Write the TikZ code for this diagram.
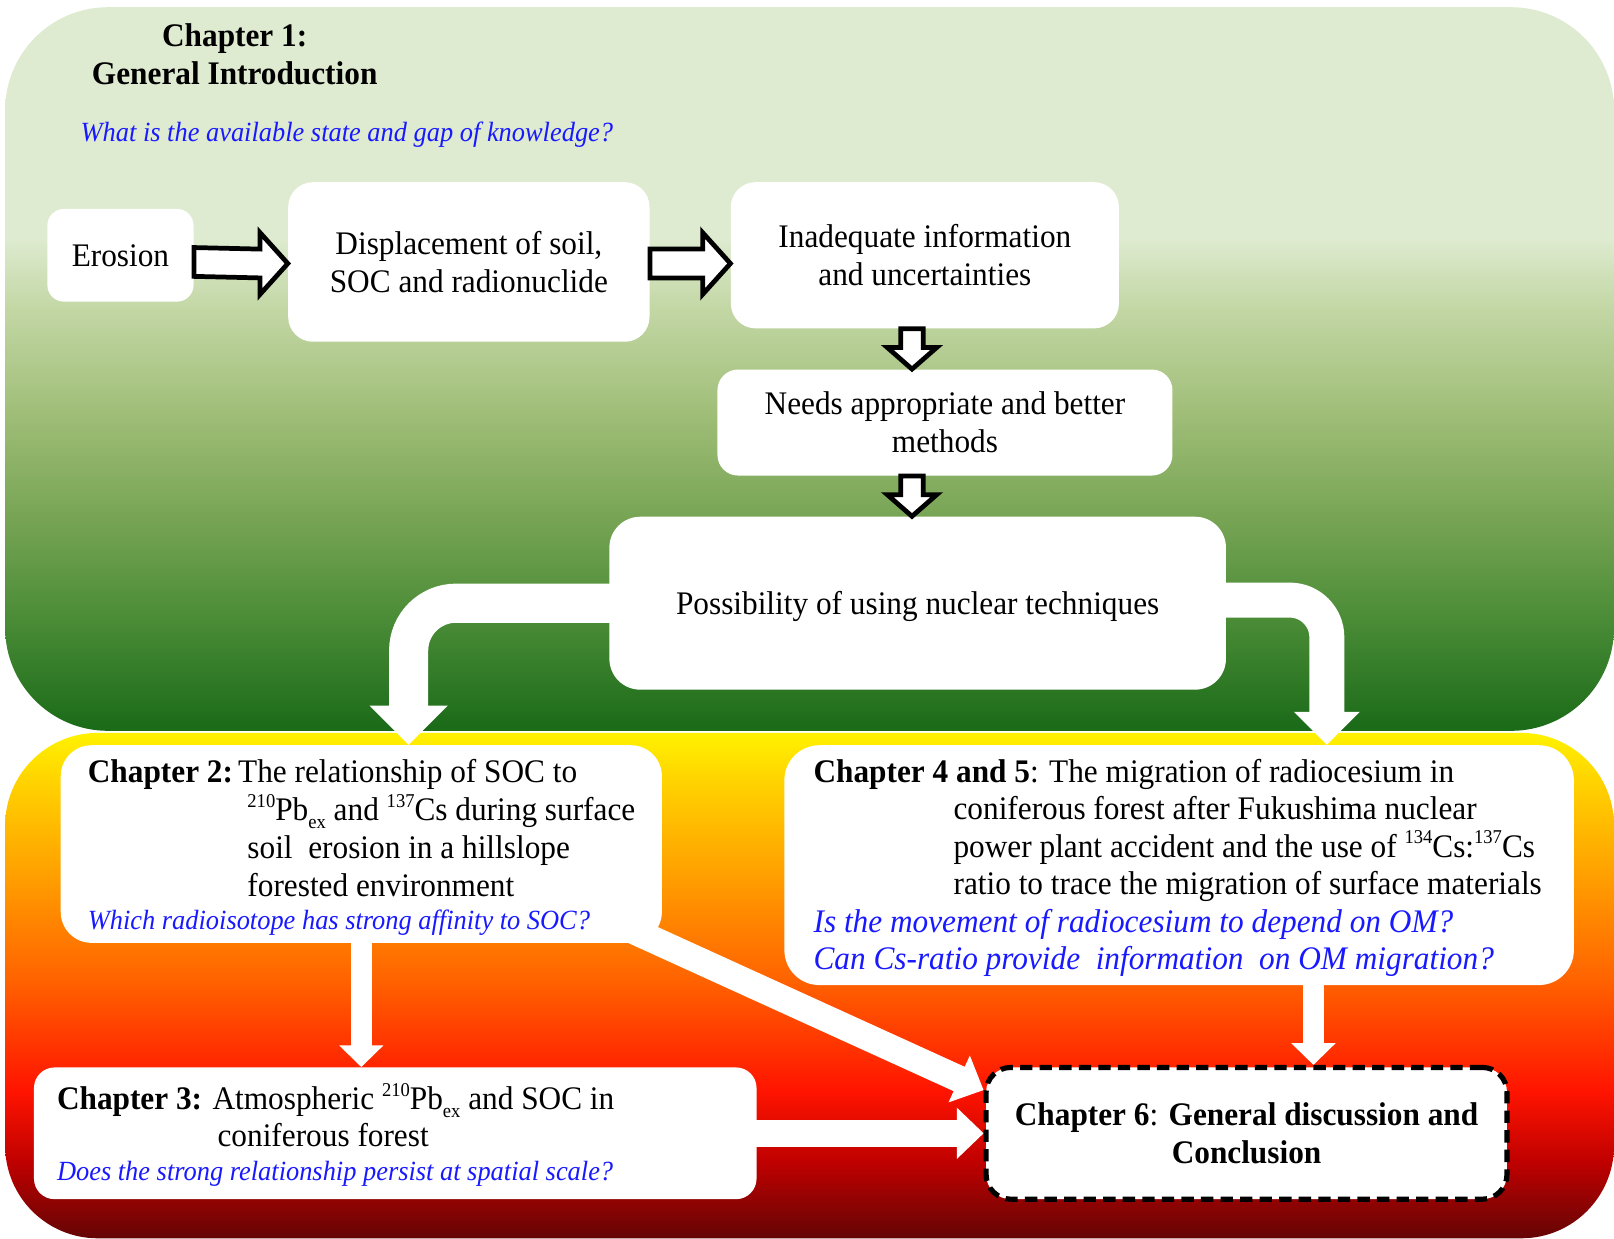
\documentclass[tikz,border=0pt]{standalone}
\usepackage{fontspec}
\setmainfont{Liberation Serif}[FakeStretch=0.95]
\usetikzlibrary{calc}
\pgfdeclarelayer{back}
\pgfdeclarelayer{mid}
\pgfsetlayers{back,mid,main}
\definecolor{qblue}{RGB}{25,25,255}
\definecolor{gA}{RGB}{26,106,24}
\definecolor{gB}{RGB}{75,140,55}
\definecolor{gC}{RGB}{120,165,85}
\definecolor{gD}{RGB}{160,190,120}
\definecolor{gE}{RGB}{195,215,165}
\definecolor{gF}{RGB}{222,235,208}
\definecolor{fA}{RGB}{100,5,5}
\definecolor{fB}{RGB}{190,0,0}
\definecolor{fC}{RGB}{255,20,0}
\definecolor{fD}{RGB}{255,100,0}
\definecolor{fE}{RGB}{255,160,0}
\definecolor{fF}{RGB}{255,210,0}
\definecolor{fG}{RGB}{255,242,0}
\pgfdeclareverticalshading{greenshade}{100bp}{color(0bp)=(gA); color(25bp)=(gA); color(32.8bp)=(gB); color(39.9bp)=(gC); color(47bp)=(gD); color(54.2bp)=(gE); color(59.1bp)=(gF); color(100bp)=(gF)}
\pgfdeclareverticalshading{fireshade}{100bp}{color(0bp)=(fA); color(25bp)=(fA); color(32.4bp)=(fB); color(39.6bp)=(fC); color(50.8bp)=(fD); color(61bp)=(fE); color(70.1bp)=(fF); color(75bp)=(fG); color(100bp)=(fG)}
\newcommand{\mainfs}{\fontsize{16}{18.3}\selectfont}
\newcommand{\qfs}{\fontsize{13.5}{16}\selectfont\itshape}
\newcommand{\mylines}[1]{\parbox[t]{14cm}{\raggedright #1}}
\newcommand{\sups}[1]{\raisebox{0.4em}{\fontsize{9.5}{10}\selectfont #1}}
\newcommand{\subs}[1]{\raisebox{-0.25em}{\fontsize{9.5}{10}\selectfont #1}}
\begin{document}
\begin{tikzpicture}[x=0.5pt,y=-0.5pt,
  wbox/.style={fill=white, inner sep=0pt, align=center, font=\mainfs},
  txt/.style={inner sep=0pt, anchor=base west, font=\mainfs},
  qtxt/.style={inner sep=0pt, anchor=base west, font=\qfs, text=qblue},
  outarrow/.style={draw=black, fill=white, line width=2.3pt, line join=miter},
  wflow/.style={draw=white, line cap=butt},
  whead/.style={fill=white}]
\useasboundingbox (0,0) rectangle (1568,1203);
\begin{pgfonlayer}{back}
  \fill[white] (0,0) rectangle (1568,1203);
  \shade[shading=greenshade, rounded corners=50pt] (5,7) rectangle (1568,710);
  \shade[shading=fireshade, rounded corners=45pt] (5,712) rectangle (1568,1203);
\end{pgfonlayer}

% Chapter 1 heading
\node[inner sep=0pt, align=center, font=\mainfs\bfseries] (ch1) at (228,53) {Chapter 1:\\General Introduction};
\node[qtxt] (q1) at (78,137) {What is the available state and gap of knowledge?};

% top boxes
\node[wbox, rounded corners=8pt, minimum width=71pt, minimum height=45pt] (ero) at (117,248) {Erosion};
\node[wbox, rounded corners=12pt, minimum width=175.5pt, minimum height=77.5pt] (disp) at (455.5,254.5) {Displacement of soil,\\SOC and radionuclide};
\node[wbox, rounded corners=12pt, minimum width=188.5pt, minimum height=71pt] (inad) at (898.5,248) {Inadequate information\\and uncertainties};
\node[wbox, rounded corners=10pt, minimum width=221pt, minimum height=51.5pt] (needs) at (918,410.5) {Needs appropriate and better\\methods};
\node[wbox, rounded corners=15pt, minimum width=299.5pt, minimum height=84pt, text depth=0pt] (poss) at (891.5,586) {Possibility of using nuclear techniques};

% bottom boxes
\node[wbox, rounded corners=15pt, minimum width=292pt, minimum height=96pt] (ch2) at (351,820) {};
\node[wbox, rounded corners=17pt, minimum width=383.5pt, minimum height=116.5pt] (ch45) at (1145.5,840.5) {};
\node[wbox, rounded corners=10pt, minimum width=351pt, minimum height=64pt] (ch3) at (384,1101) {};
\node[wbox, draw=black, line width=2.5pt, dash pattern=on 6pt off 3.5pt, rounded corners=12pt, minimum width=253pt, minimum height=64pt, font=\mainfs\bfseries] (ch6) at (1211,1101) {Chapter 6\textmd{:} General discussion and\\Conclusion};

% texts of chapter 2
\node[txt, font=\mainfs\bfseries] (c2h) at (85,760) {Chapter 2:};
\node[txt, font=\fontsize{16}{18.5}\selectfont] (c2t) at (231,760) {\mylines{The relationship of SOC to\\
\hspace*{4.5pt}\sups{210}Pb\subs{ex} and \sups{137}Cs during surface\\
\hspace*{4.5pt}soil\ \ erosion in a hillslope\\
\hspace*{4.5pt}forested environment}};
\node[qtxt] (c2q) at (85,903) {Which radioisotope has strong affinity to SOC?};

% texts of chapter 4 and 5
\node[txt] (c45h) at (790,760) {\textbf{Chapter 4 and 5}: The migration of radiocesium in};
\node[txt, font=\fontsize{16}{18.3}\selectfont] (c45t) at (926,796) {\mylines{coniferous forest after Fukushima nuclear\\
power plant accident and the use of \sups{134}Cs:\sups{137}Cs\\
ratio to trace the migration of surface materials}};
\node[qtxt, font=\fontsize{16}{18}\selectfont\itshape] (c45q) at (790,906) {\mylines{Is the movement of radiocesium to depend on OM?\\
Can Cs-ratio provide\ \ information\ \ on OM migration?}};

% texts of chapter 3
\node[txt] (c3h) at (55,1078) {\textbf{Chapter 3:} Atmospheric \sups{210}Pb\subs{ex} and SOC in};
\node[txt] (c3t) at (211,1114) {coniferous forest};
\node[qtxt] (c3q) at (55,1147) {Does the strong relationship persist at spatial scale?};

% outline block arrows (top)
\coordinate (s1) at (ero.east |- disp.west);
\coordinate (t1) at ($(disp.west)+(0,1.5)$);
\draw[outarrow] ($(s1)+(0,-14)$) -- ($(t1)+(-27,-14)$) -- ($(t1)+(-27,-30)$) -- (t1) -- ($(t1)+(-27,30)$) -- ($(t1)+(-27,14)$) -- ($(s1)+(0,14)$) -- cycle;
\coordinate (s2) at ($(disp.east)+(0,1.5)$);
\coordinate (t2) at (inad.west |- s2);
\draw[outarrow] ($(s2)+(0,-14)$) -- ($(t2)+(-27,-14)$) -- ($(t2)+(-27,-30)$) -- (t2) -- ($(t2)+(-27,30)$) -- ($(t2)+(-27,14)$) -- ($(s2)+(0,14)$) -- cycle;
\coordinate (s3) at ($(inad.south)+(-12.5,0)$);
\coordinate (t3) at (s3 |- needs.north);
\draw[outarrow] ($(s3)+(-11,0)$) -- ($(t3)+(-11,-21)$) -- ($(t3)+(-24,-21)$) -- (t3) -- ($(t3)+(24,-21)$) -- ($(t3)+(11,-21)$) -- ($(s3)+(11,0)$) -- cycle;
\coordinate (s4) at (s3 |- needs.south);
\coordinate (t4) at (s3 |- poss.north);
\draw[outarrow] ($(s4)+(-11,0)$) -- ($(t4)+(-11,-21)$) -- ($(t4)+(-24,-21)$) -- (t4) -- ($(t4)+(24,-21)$) -- ($(t4)+(11,-21)$) -- ($(s4)+(11,0)$) -- cycle;

\begin{pgfonlayer}{mid}
  % curved white arrows from Possibility
  \coordinate (tL) at (397,0 |- ch2.north);
  \draw[wflow, line width=19pt, rounded corners=23pt] ($(poss.west)+(20,0)$) -| ($(tL)+(0,-37)$);
  \fill[whead] ($(tL)+(-38,-38)$) -- ($(tL)+(38,-38)$) -- (tL) -- cycle;
  \coordinate (tR) at (1289,0 |- ch45.north);
  \draw[wflow, line width=17pt, rounded corners=18pt] ($(poss.east)+(-20,-3)$) -| ($(tR)+(0,-31)$);
  \fill[whead] ($(tR)+(-32,-32)$) -- ($(tR)+(32,-32)$) -- (tR) -- cycle;
  % chapter 2 -> chapter 3
  \coordinate (t5) at (ch2.south |- ch3.north);
  \draw[wflow, line width=10pt] ($(ch2.south)+(0,-10)$) -- ($(t5)+(0,-20)$);
  \fill[whead] ($(t5)+(-21.5,-21)$) -- ($(t5)+(21.5,-21)$) -- (t5) -- cycle;
  % chapter 4 and 5 -> chapter 6
  \coordinate (s6) at (1276,0 |- ch45.south);
  \coordinate (t6) at (1276,0 |- ch6.north);
  \draw[wflow, line width=10pt] ($(s6)+(0,-10)$) -- ($(t6)+(0,-20)$);
  \fill[whead] ($(t6)+(-21.5,-21)$) -- ($(t6)+(21.5,-21)$) -- (t6) -- cycle;
  % chapter 3 -> chapter 6
  \coordinate (s7) at ($(ch3.east |- ch6.west)+(-20,0)$);
  \coordinate (t7) at (ch6.west);
  \draw[wflow, line width=13pt] (s7) -- ($(t7)+(-25,0)$);
  \fill[whead] ($(t7)+(-26,-25)$) -- ($(t7)+(-26,25)$) -- (t7) -- cycle;
  % chapter 2 -> chapter 6 (diagonal)
  \coordinate (t8) at ($(ch6.west)+(0,-42)$);
  \coordinate (s8) at ($(ch2.south east)+(-45,-20)$);
  \coordinate (h8) at ($(t8)!13pt!(s8)$);
  \draw[wflow, line width=13pt] (s8) -- ($(t8)!12.5pt!(s8)$);
  \fill[whead] ($(h8)!12.5pt!90:(t8)$) -- (t8) -- ($(h8)!12.5pt!-90:(t8)$) -- cycle;
\end{pgfonlayer}
\end{tikzpicture}
\end{document}
